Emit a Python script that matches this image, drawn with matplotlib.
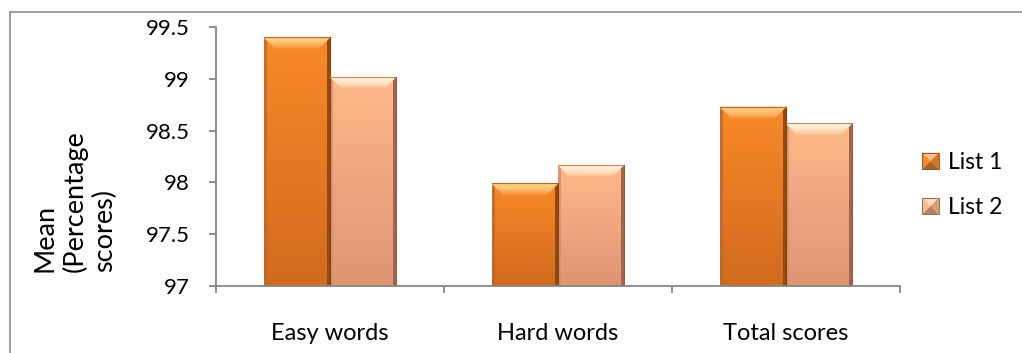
import matplotlib.pyplot as plt
import numpy as np
from matplotlib.colors import LinearSegmentedColormap, to_rgb
from matplotlib.patches import Polygon, Rectangle, Patch
from matplotlib.legend_handler import HandlerBase

plt.rcParams['font.family'] = ['Lato', 'DejaVu Sans']

categories = ['Easy words', 'Hard words', 'Total scores']
series_names = ['List 1', 'List 2']
list1 = [99.40, 97.99, 98.73]
list2 = [99.02, 98.17, 98.57]
yticks = [97, 97.5, 98, 98.5, 99, 99.5]

# face gradient top/bottom, top-bevel highlight, dark edge
styles = [
    dict(top='#F88A2A', bottom='#D06A1E', hi='#FDD08A', edge='#7E4212'),
    dict(top='#FDB98A', bottom='#E09474', hi='#FFF4DC', edge='#86584A'),
]

GREY = '#868686'


def mix(c, other, f):
    c = np.array(to_rgb(c))
    o = np.array(to_rgb(other))
    return tuple(np.clip(c * (1 - f) + o * f, 0, 1))


def gradient(ax, patch, extent, c_bottom, c_top, z=2):
    cmap = LinearSegmentedColormap.from_list('g', [c_bottom, c_top])
    data = np.linspace(1, 0, 128)[:, None]
    im = ax.imshow(data, cmap=cmap, extent=extent, aspect='auto', vmin=0, vmax=1,
                   origin='upper', interpolation='bilinear', zorder=z)
    ax.add_patch(patch)
    patch.set_visible(False)
    im.set_clip_path(patch)
    return im


def top_bevel(ax, x0, x1, y1, dx, dy, c_low, c_high, n=12):
    # stacked slices of the bevel trapezoid, brightest just under the top edge
    for i in range(n):
        f0, f1 = i / n, (i + 1) / n
        ya, yb = y1 - dy + f0 * dy, y1 - dy + f1 * dy
        ia, ib = dx * (1 - f0), dx * (1 - f1)
        f = min(1.0, ((f0 + f1) / 2) ** 0.6 * 1.15)
        col = mix(c_low, c_high, f)
        ax.add_patch(Polygon([(x0 + ia, ya), (x1 - ia, ya), (x1 - ib, yb), (x0 + ib, yb)],
                             fc=col, ec=col, lw=0.3, zorder=3))


class BevelSquare(HandlerBase):
    def create_artists(self, legend, orig_handle, xdescent, ydescent,
                       width, height, fontsize, trans):
        base = orig_handle.get_facecolor()
        x0, y0 = -xdescent, -ydescent
        s = min(width, height)
        x0 = x0 + (width - s) / 2
        c = (x0 + s / 2, y0 + s / 2)
        tris = [
            ([(x0, y0 + s), (x0 + s, y0 + s), c], mix(base, 'white', 0.45)),
            ([(x0, y0), (x0, y0 + s), c], base),
            ([(x0 + s, y0), (x0 + s, y0 + s), c], mix(base, 'black', 0.15)),
            ([(x0, y0), (x0 + s, y0), c], mix(base, 'black', 0.3)),
        ]
        arts = []
        for pts, col in tris:
            arts.append(Polygon(pts, closed=True, fc=col, ec='none', transform=trans))
        arts.append(Rectangle((x0, y0), s, s, fill=False, ec=mix(base, 'black', 0.5),
                              lw=0.6, transform=trans))
        return arts


fig = plt.figure(figsize=(10.22, 3.53), dpi=100)
ax = fig.add_axes([216 / 1022, 1 - 286 / 353, 684 / 1022, 259 / 353])
ax.set_xlim(-0.5, 2.5)
ax.set_ylim(97, 99.5)

x = np.arange(len(categories))
width = 0.29
offsets = [-width / 2, width / 2]

# size of one pixel in data units
p0 = ax.transData.transform((0, 97))
p1 = ax.transData.transform((1, 98))
px_x = 1 / (p1[0] - p0[0])
px_y = 1 / (p1[1] - p0[1])

ymin = ax.get_ylim()[0]
for vals, off, st, name in zip([list1, list2], offsets, styles, series_names):
    bars = ax.bar(x + off, vals, width, color='none', edgecolor='none',
                  zorder=1, label=name)
    for b in bars:
        x0, x1 = b.get_x(), b.get_x() + b.get_width()
        y0, y1 = ymin, b.get_height()
        body = Rectangle((x0, y0), x1 - x0, y1 - y0)
        gradient(ax, body, (x0, x1, y0, y1), st['bottom'], st['top'], z=2)

        ds = 3 * px_x
        left = Polygon([(x0, y0), (x0, y1), (x0 + ds, y1), (x0 + ds, y0)],
                       fc=mix(st['bottom'], 'black', 0.05), ec='none', zorder=3, alpha=0.8)
        ax.add_patch(left)
        right = Polygon([(x1, y0), (x1, y1), (x1 - ds, y1), (x1 - ds, y0)],
                        fc=mix(st['bottom'], 'black', 0.3), ec='none', zorder=3)
        ax.add_patch(right)
        top_bevel(ax, x0, x1, y1, 11 * px_x, 11 * px_y, st['top'], st['hi'])
        # thin rim: orange-brown along the top, dark down the right side
        ax.plot([x0, x1], [y1, y1], color=mix(st['top'], 'black', 0.25), lw=0.8, zorder=4)
        ax.plot([x1, x1], [y1, y0], color=st['edge'], lw=0.7, zorder=4)

ax.set_xlim(-0.5, 2.5)
ax.set_ylim(97, 99.5)

for side in ['top', 'right']:
    ax.spines[side].set_visible(False)
for side in ['left', 'bottom']:
    ax.spines[side].set_color(GREY)
    ax.spines[side].set_linewidth(1.3)
    ax.spines[side].set_zorder(5)

ax.set_yticks(yticks)
ax.set_yticklabels([f'{t:g}' for t in yticks])
ax.tick_params(axis='y', length=5, width=1.3, color=GREY, pad=14,
               labelsize=16, labelcolor='black')

ax.set_xticks(x)
ax.set_xticklabels(categories)
ax.set_xticks(np.arange(-0.5, len(categories), 1), minor=True)
ax.tick_params(axis='x', which='major', length=0, pad=27, labelsize=17)
ax.tick_params(axis='x', which='minor', length=5, width=1.3, color=GREY)

fig.text(75 / 1022, 1 - 272 / 353, 'Mean\n(Percentage\nscores)', rotation=90,
         ha='center', va='bottom', multialignment='left', fontsize=19.5)

handles = [Patch(facecolor=st['top']) for st in styles]
fig.legend(handles, series_names, handler_map={Patch: BevelSquare()},
           loc='center left', bbox_to_anchor=(922 / 1022, 1 - 185 / 353),
           frameon=False, fontsize=16.5, handlelength=0.75, handleheight=0.75,
           handletextpad=0.4, labelspacing=1.05, borderpad=0, borderaxespad=0)

fig.add_artist(Rectangle((10 / 1022, -0.1), 1.2, 1.066, transform=fig.transFigure,
                         fill=False, ec='#8c8c8c', lw=1.2))

fig.savefig('out.png', dpi=100)
